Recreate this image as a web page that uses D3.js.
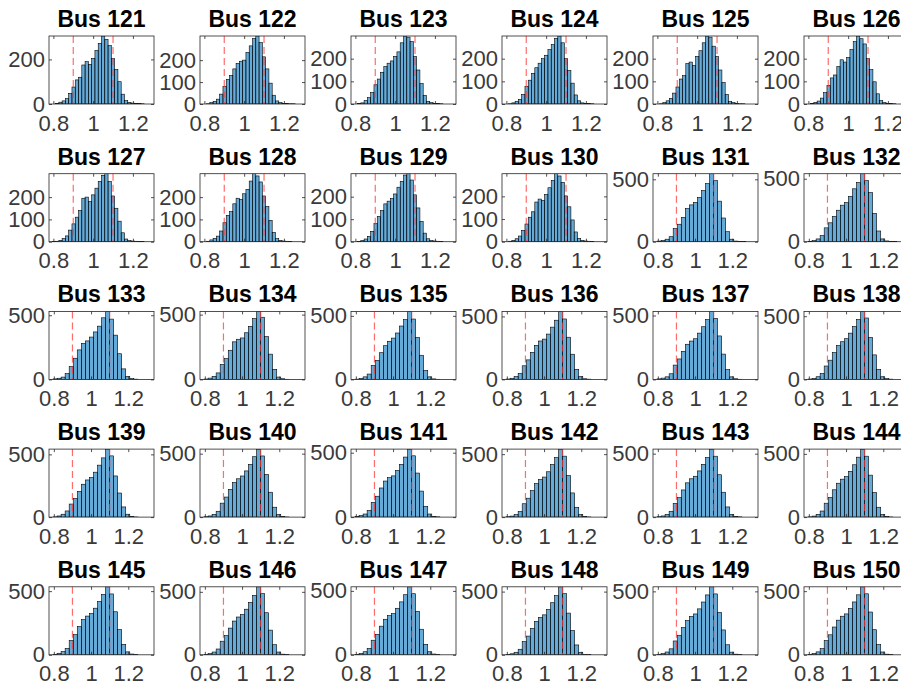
<!DOCTYPE html>
<html>
<head>
<meta charset="utf-8">
<script src="https://cdn.jsdelivr.net/npm/d3@7"></script>
<style>
  body { margin: 0; background: #fff; overflow: hidden; }
  svg { display: block; }
</style>
</head>
<body>
<svg id="chart"></svg>
<script>
// Figure size and subplot grid
let width = 901;
let height = 686;
const nCols = 6;
const axLeft = 49, axTop = 36, axW = 105, axH = 68;
const colStep = 151, rowStep = 137.7;

// Bus numbers, one subplot each
const busIds = [121, 122, 123, 124, 125, 126,
                127, 128, 129, 130, 131, 132,
                133, 134, 135, 136, 137, 138,
                139, 140, 141, 142, 143, 144,
                145, 146, 147, 148, 149, 150];

const xTicks = [0.8, 1, 1.2];
const limitLines = [0.9, 1.1];   // voltage limits (p.u.)

// histogram bins: narrow for buses 121-130, wide for 131-150
const binStartNarrow = 0.778, binWidthNarrow = 0.0165;
const binStartWide = 0.774, binWidthWide = 0.0217;

const yTicksNarrow = [0, 100, 200];
const yTicks121 = [0, 200];
const yTicksWide = [0, 500];

// counts per bin (narrow bins, 32 of them)
const bus121 = [0,0,2,8,14,24,48,76,108,120,175,190,178,205,240,272,305,290,262,205,155,100,44,15,7,4,3,2,1,0,0,0];
const bus122 = [0,0,1,6,12,22,45,80,112,130,160,185,195,200,235,265,298,310,280,215,160,95,40,14,6,3,2,1,1,0,0,0];
const bus123 = [0,0,2,5,15,28,50,85,110,140,165,180,190,210,230,270,300,295,275,210,150,90,38,12,6,3,2,1,0,0,0,0];
const bus124 = [0,0,1,5,12,20,42,78,105,135,160,180,200,215,240,262,290,300,270,200,148,92,40,14,5,3,2,1,0,0,0,0];
const bus125 = [0,0,1,6,14,25,48,75,110,125,178,185,170,210,235,270,300,295,255,210,150,95,42,12,6,3,1,1,0,0,0,0];
const bus126 = [0,0,2,7,13,26,50,82,115,128,165,195,185,205,240,275,300,288,265,200,152,98,45,15,6,3,2,1,0,0,0,0];
const bus127 = [0,1,2,6,14,26,52,80,110,140,195,200,180,210,240,270,298,305,270,205,150,92,40,12,5,3,2,1,1,0,0,0];
const bus128 = [0,0,2,8,15,25,48,85,118,135,170,195,190,215,235,272,305,295,268,205,158,96,42,14,6,3,2,1,0,0,0,0];
const bus129 = [0,0,1,5,12,24,46,80,112,138,168,180,192,212,242,268,296,302,274,208,150,90,38,13,5,3,2,1,0,0,0,0];
const bus130 = [0,0,2,6,13,25,50,78,108,132,175,188,182,208,238,270,300,290,262,202,154,96,43,14,6,3,2,1,0,0,0,0];

// counts per bin (wide bins, 26 of them)
const bus131 = [0,5,10,20,40,105,140,195,265,295,315,355,410,465,545,490,325,190,80,20,5,2,1,0,0,0];
const bus132 = [0,3,8,22,48,110,150,200,250,290,310,360,420,470,540,485,390,225,85,22,6,2,1,0,0,0];
const bus133 = [0,4,9,18,45,100,165,230,280,300,330,370,415,480,530,470,345,200,82,24,6,2,0,0,0,0];
const bus134 = [0,3,10,24,50,115,160,225,290,310,320,360,410,470,525,480,330,195,78,18,5,1,0,0,0,0];
const bus135 = [0,2,8,20,42,110,150,210,265,300,325,365,420,470,535,475,330,190,70,20,4,1,0,0,0,0];
const bus136 = [0,3,9,22,46,108,155,215,270,305,320,360,415,470,540,480,335,200,80,22,5,2,0,0,0,0];
const bus137 = [0,4,10,20,44,112,160,220,275,300,318,362,412,468,532,478,340,198,76,20,5,1,0,0,0,0];
const bus138 = [0,3,8,21,47,106,152,212,268,298,322,366,418,474,538,486,332,194,79,21,6,2,0,0,0,0];
const bus139 = [0,2,9,23,49,104,148,205,262,296,316,358,414,472,542,488,328,192,81,23,5,1,0,0,0,0];
const bus140 = [0,3,9,22,46,110,158,218,272,302,324,364,416,476,536,482,336,196,78,20,4,1,0,0,0,0];
const bus141 = [0,4,11,24,52,114,162,226,280,306,320,362,410,466,528,476,342,202,84,24,6,2,0,0,0,0];
const bus142 = [0,3,8,20,44,106,150,210,266,298,318,360,418,472,540,484,330,192,78,20,5,1,0,0,0,0];
const bus143 = [0,3,9,21,46,108,154,214,270,302,322,364,416,470,536,480,334,196,80,22,5,2,0,0,0,0];
const bus144 = [0,2,8,22,48,110,156,216,268,300,320,362,414,474,538,482,332,194,78,21,5,1,0,0,0,0];
const bus145 = [0,4,12,25,50,112,158,222,276,304,324,366,418,474,534,478,338,198,82,23,6,2,0,0,0,0];
const bus146 = [0,3,9,22,46,108,152,212,268,300,320,362,416,472,540,486,334,196,80,22,5,1,0,0,0,0];
const bus147 = [0,3,10,24,50,114,160,224,278,306,322,364,414,470,532,478,340,200,82,24,6,2,0,0,0,0];
const bus148 = [0,2,8,20,44,104,148,208,264,296,316,358,412,468,538,484,330,192,78,20,4,1,0,0,0,0];
const bus149 = [0,3,9,22,47,109,154,214,270,302,322,362,416,472,536,480,334,196,79,21,5,2,0,0,0,0];
const bus150 = [0,4,10,23,48,111,157,218,272,303,321,363,415,471,534,479,336,197,80,22,5,1,0,0,0,0];

const allCounts = [bus121, bus122, bus123, bus124, bus125, bus126, bus127, bus128, bus129, bus130,
                   bus131, bus132, bus133, bus134, bus135, bus136, bus137, bus138, bus139, bus140,
                   bus141, bus142, bus143, bus144, bus145, bus146, bus147, bus148, bus149, bus150];

const fontFamily = "'Liberation Sans', Arial, Helvetica, sans-serif";
const axisColor = "#262626";
const labelColor = "#3a3a3a";

const svg = d3.select("#chart")
    .attr("width", width)
    .attr("height", height)
    .style("background", "#fff");

busIds.forEach((bus, k) => {
    const col = k % nCols;
    const row = Math.floor(k / nCols);
    const counts = allCounts[k];
    const narrow = bus <= 130;
    const start = narrow ? binStartNarrow : binStartWide;
    const bw = narrow ? binWidthNarrow : binWidthWide;
    const yTicks = bus === 121 ? yTicks121 : (narrow ? yTicksNarrow : yTicksWide);

    const x = d3.scaleLinear()
        .domain([start, start + counts.length * bw])
        .range([0, axW]);
    const y = d3.scaleLinear()
        .domain([0, d3.max(counts)])
        .range([axH, 0]);

    const g = svg.append("g")
        .attr("transform", `translate(${axLeft + col * colStep},${axTop + row * rowStep})`);

    // clip for the bars
    const clipId = "clip" + bus;
    g.append("clipPath").attr("id", clipId)
        .append("rect").attr("width", axW).attr("height", axH);

    const bins = counts.map((c, i) => ({ x0: start + i * bw, x1: start + (i + 1) * bw, c: c }))
        .filter(d => d.c > 0);

    g.append("g")
        .attr("clip-path", `url(#${clipId})`)
        .selectAll("rect")
        .data(bins)
        .join("rect")
        .attr("x", d => x(d.x0))
        .attr("width", d => x(d.x1) - x(d.x0))
        .attr("y", d => y(d.c))
        .attr("height", d => axH - y(d.c))
        .attr("fill", "rgb(0,114,189)")
        .attr("fill-opacity", 0.6)
        .attr("stroke", "#000")
        .attr("stroke-width", 0.6);

    // red dashed limit lines
    g.selectAll("line.limit")
        .data(limitLines)
        .join("line")
        .attr("class", "limit")
        .attr("x1", d => x(d)).attr("x2", d => x(d))
        .attr("y1", 0).attr("y2", axH)
        .attr("stroke", "#ff3b3b")
        .attr("stroke-opacity", 0.75)
        .attr("stroke-width", 1.2)
        .attr("stroke-dasharray", "7,4");

    // axes with inward ticks, MATLAB-like
    g.append("g")
        .attr("transform", `translate(0,${axH})`)
        .call(d3.axisBottom(x).tickValues(xTicks).tickFormat(d3.format("~g"))
            .tickSizeInner(-3).tickSizeOuter(0).tickPadding(11));
    g.append("g")
        .call(d3.axisLeft(y).tickValues(yTicks).tickFormat(d3.format("d"))
            .tickSizeInner(-3).tickSizeOuter(0).tickPadding(4));
    g.append("g")
        .call(d3.axisTop(x).tickValues(xTicks).tickFormat("").tickSizeInner(-3).tickSizeOuter(0));
    g.append("g")
        .attr("transform", `translate(${axW},0)`)
        .call(d3.axisRight(y).tickValues(yTicks).tickFormat("").tickSizeInner(-3).tickSizeOuter(0));

    g.selectAll(".domain").remove();
    g.selectAll(".tick line").attr("stroke", axisColor).attr("stroke-width", 0.8);
    g.selectAll(".tick text")
        .attr("fill", labelColor)
        .style("font-family", fontFamily)
        .style("font-size", "22px");

    // box around the axes
    g.append("rect")
        .attr("width", axW).attr("height", axH)
        .attr("fill", "none")
        .attr("stroke", axisColor)
        .attr("stroke-width", 0.8);

    // title
    g.append("text")
        .attr("x", axW / 2)
        .attr("y", -9)
        .attr("text-anchor", "middle")
        .style("font-family", fontFamily)
        .style("font-size", "23px")
        .style("font-weight", "bold")
        .attr("fill", "#000")
        .text("Bus " + bus);
});
</script>
</body>
</html>
